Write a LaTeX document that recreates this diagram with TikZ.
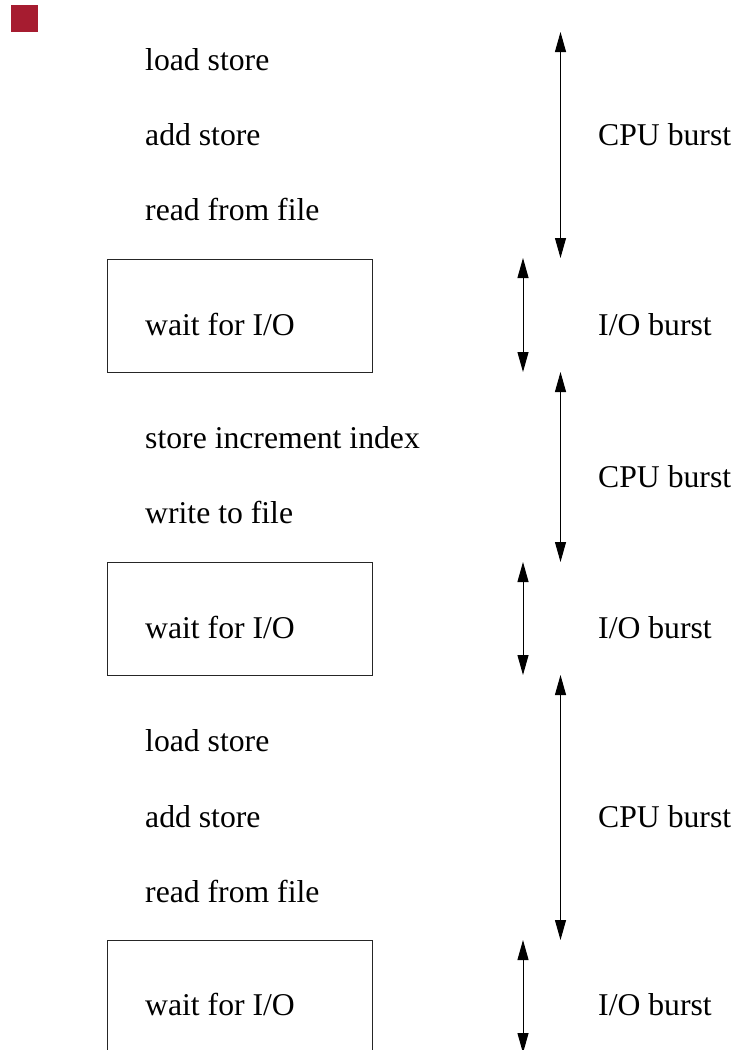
\documentclass[tikz,border=0pt]{standalone}
\usepackage{fontspec}
\setmainfont{Liberation Serif}
\usetikzlibrary{arrows.meta}
\definecolor{crimson}{RGB}{166,28,48}
\begin{document}
\begin{tikzpicture}[x=1pt,y=-1pt,
  instr/.style={anchor=base west, inner sep=0pt, font=\fontsize{31.7}{38}\selectfont},
  waitbox/.style={draw=black!85, line width=1pt, anchor=north west,
                  minimum width=265, minimum height=113, inner sep=0pt},
  burst/.style={line width=1pt,
                {Triangle[length=20pt,width=11pt]}-{Triangle[length=20pt,width=11pt]}},
]
\useasboundingbox (0,0) rectangle (740,1050);
\clip (0,0) rectangle (740,1050);

% corner mark
\fill[crimson] (11,5) rectangle (38,32);

% waiting boxes
\node[waitbox] (box1) at (107,259) {};
\node[waitbox] (box2) at (107,562) {};
\node[waitbox] (box3) at (107,940) {};

% first CPU burst
\node[instr] (l1) at (145,70)  {load store};
\node[instr] (l2) at (145,145) {add store};
\node[instr] (l3) at (145,220) {read from file};
% first I/O burst
\node[instr] (w1) at (145,335) {wait for I/O};
% second CPU burst
\node[instr] (l4) at (145,448) {store increment index};
\node[instr] (l5) at (145,523) {write to file};
% second I/O burst
\node[instr] (w2) at (145,638) {wait for I/O};
% third CPU burst
\node[instr] (l6) at (145,751) {load store};
\node[instr] (l7) at (145,827) {add store};
\node[instr] (l8) at (145,902) {read from file};
% third I/O burst
\node[instr] (w3) at (145,1015) {wait for I/O};

% burst labels
\node[instr] (b1) at (598,145)  {CPU burst};
\node[instr] (b2) at (598,335)  {I/O burst};
\node[instr] (b3) at (598,487)  {CPU burst};
\node[instr] (b4) at (598,638)  {I/O burst};
\node[instr] (b5) at (598,827)  {CPU burst};
\node[instr] (b6) at (598,1015) {I/O burst};

% arrow end points
\coordinate (c1t) at (560.5,32);
\coordinate (c1b) at (560.5,258);
\coordinate (i1t) at (523,258);
\coordinate (i1b) at (523,372);
\coordinate (c2t) at (560.5,372);
\coordinate (c2b) at (560.5,562);
\coordinate (i2t) at (523,562);
\coordinate (i2b) at (523,675);
\coordinate (c3t) at (560.5,675);
\coordinate (c3b) at (560.5,940);
\coordinate (i3t) at (523,940);
\coordinate (i3b) at (523,1053);

\draw[burst] (c1t) -- (c1b);
\draw[burst] (i1t) -- (i1b);
\draw[burst] (c2t) -- (c2b);
\draw[burst] (i2t) -- (i2b);
\draw[burst] (c3t) -- (c3b);
\draw[burst] (i3t) -- (i3b);
\end{tikzpicture}
\end{document}
